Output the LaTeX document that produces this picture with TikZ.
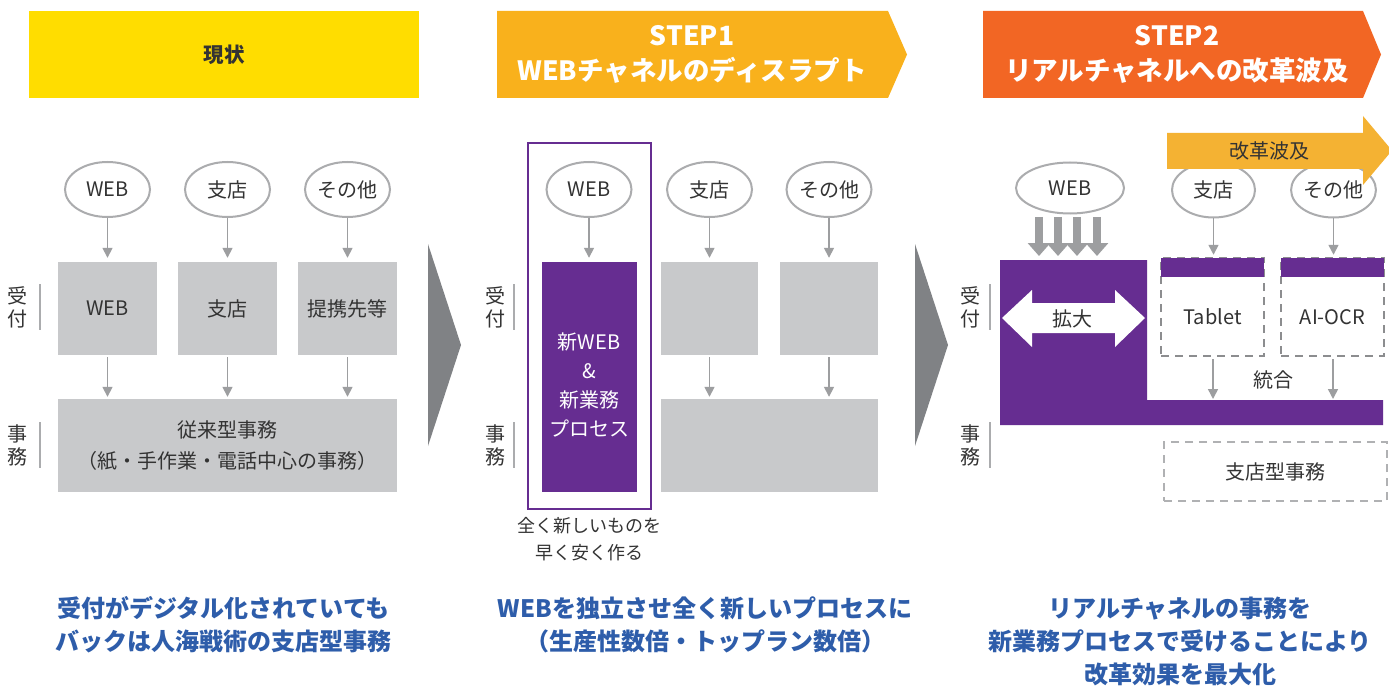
\documentclass[tikz,border=0pt]{standalone}
\usepackage{fontspec}
\setmainfont{Noto Sans CJK JP}
\usetikzlibrary{arrows.meta,shapes.geometric}
\definecolor{ylw}{HTML}{FFDD00}
\definecolor{orgA}{HTML}{F9B11C}
\definecolor{orgB}{HTML}{F26624}
\definecolor{prp}{HTML}{662D91}
\definecolor{gbox}{HTML}{C8C9CB}
\definecolor{gline}{HTML}{ABACAE}
\definecolor{garr}{HTML}{9D9EA0}
\definecolor{tri}{HTML}{808285}
\definecolor{txt}{HTML}{333333}
\definecolor{blu}{HTML}{2E5DAA}
\definecolor{wave}{HTML}{F4B233}
\definecolor{dashA}{HTML}{8C8D8F}
\definecolor{dashB}{HTML}{B0B1B3}
\tikzset{
  body/.style={font=\fontsize{20}{24}\selectfont, text=txt},
  oval/.style={ellipse, draw=gline, line width=2pt, minimum width=85pt, minimum height=55pt, inner sep=0pt, body},
  gbx/.style={rectangle, fill=gbox, inner sep=0pt, body},
  thin arrow/.style={draw=garr, line width=1.6pt, -{Triangle[width=10pt,length=10pt]}},
  side/.style={font=\fontsize{20}{23}\selectfont, text=txt, align=center, inner sep=0pt},
  sideline/.style={draw=gline, line width=1.2pt},
  hdr/.style={font=\bfseries\fontsize{26.5}{35}\selectfont, text=white, align=center, inner sep=0pt},
  bottomtxt/.style={font=\bfseries\fontsize{24}{33}\selectfont, text=blu, align=center, inner sep=0pt},
  fat arrow/.style={draw=garr, line width=8pt, -{Triangle[width=22pt,length=13pt]}},
  dashbox/.style={draw=dashA, line width=2.5pt, dash pattern=on 8pt off 6pt},
}
\begin{document}
\begin{tikzpicture}[x=1pt,y=-1pt]
\useasboundingbox (0,0) rectangle (1389,687);
\fill[white] (0,0) rectangle (1389,687);

% ---------- headers ----------
\fill[ylw] (29,11) rectangle (419,98);
\node[font=\bfseries\fontsize{20.5}{24}\selectfont, text=txt] (h0) at (224,55) {現状};
\fill[orgA] (497,11) -- (888,11) -- (907,54.5) -- (888,98) -- (497,98) -- cycle;
\node[hdr] (h1) at (692,54) {STEP1\\WEBチャネルのディスラプト};
\fill[orgB] (983,11) -- (1363,11) -- (1381,54.5) -- (1363,98) -- (983,98) -- cycle;
\node[hdr] (h2) at (1177,54) {STEP2\\リアルチャネルへの改革波及};

% ---------- panel 1 ----------
\node[oval] (e1a) at (107.5,189.5) {WEB};
\node[oval] (e1b) at (227.5,189.5) {支店};
\node[oval] (e1c) at (347.5,189.5) {その他};
\node[gbx, minimum width=99pt, minimum height=93pt] (b1a) at (107.5,308.5) {WEB};
\node[gbx, minimum width=99pt, minimum height=93pt] (b1b) at (227.5,308.5) {支店};
\node[gbx, minimum width=99pt, minimum height=93pt] (b1c) at (347.5,308.5) {提携先等};
\node[gbx, minimum width=339pt, minimum height=93pt, align=center, font=\fontsize{20}{31}\selectfont] (b1d) at (227.5,445.5) {従来型事務\\（紙・手作業・電話中心の事務）};
\foreach \s/\t in {e1a/b1a,e1b/b1b,e1c/b1c}
  \draw[thin arrow, shorten >=4pt] (\s.south) -- (\t.north);
\foreach \s in {a,b,c}
  \draw[thin arrow, shorten <=2pt, shorten >=2pt] (b1\s.south) -- (b1\s.south |- b1d.north);
\node[side] (s1a) at (18,307) {受\\付};
\node[side] (s1b) at (18,445) {事\\務};
\draw[sideline] (40,284) -- (40,330);
\draw[sideline] (40,422) -- (40,468);
\fill[tri] (428,244) -- (461,345) -- (428,446) -- cycle;

% ---------- panel 2 ----------
\draw[prp, line width=2.5pt] (528,143) rectangle (651,509);
\node[oval] (e2a) at (589,189.5) {WEB};
\node[oval] (e2b) at (709.5,189.5) {支店};
\node[oval] (e2c) at (829,189.5) {その他};
\node[rectangle, fill=prp, minimum width=95pt, minimum height=230pt, inner sep=0pt] (p2) at (589,377) {};
\node[font=\fontsize{20}{29}\selectfont, text=white, align=center, inner sep=0pt] (p2t) at (589,385) {新WEB\\\&\\新業務\\プロセス};
\node[gbx, minimum width=97pt, minimum height=93pt] (b2b) at (709.5,308.5) {};
\node[gbx, minimum width=98pt, minimum height=93pt] (b2c) at (829,308.5) {};
\node[gbx, minimum width=217pt, minimum height=93pt] (b2d) at (769.5,445.5) {};
\draw[thin arrow, shorten >=4pt] (e2a.south) -- (e2a.south |- p2.north);
\draw[thin arrow, shorten >=4pt] (e2b.south) -- (b2b.north);
\draw[thin arrow, shorten >=4pt] (e2c.south) -- (b2c.north);
\draw[thin arrow, shorten <=2pt, shorten >=2pt] (b2b.south) -- (b2b.south |- b2d.north);
\draw[thin arrow, shorten <=2pt, shorten >=2pt] (b2c.south) -- (b2c.south |- b2d.north);
\node[font=\fontsize{18}{27}\selectfont, text=txt, align=center, inner sep=0pt] (cap2) at (589,539.5) {全く新しいものを\\早く安く作る};
\node[side] (s2a) at (495,307) {受\\付};
\node[side] (s2b) at (495,445) {事\\務};
\draw[sideline] (514,284) -- (514,330);
\draw[sideline] (514,422) -- (514,468);
\fill[tri] (915,244) -- (948,345) -- (915,446) -- cycle;

% ---------- panel 3 ----------
\node[side] (s3a) at (970,307) {受\\付};
\node[side] (s3b) at (970,445) {事\\務};
\draw[sideline] (990,284) -- (990,330);
\draw[sideline] (990,422) -- (990,468);
\node[oval, minimum width=108pt, minimum height=51pt] (e3a) at (1070,188) {WEB};
\node[oval, minimum width=83pt] (e3b) at (1213.5,190) {支店};
\node[oval, minimum width=83pt] (e3c) at (1333.5,190) {その他};
% purple L shape
\fill[prp] (1000,260) -- (1147,260) -- (1147,400) -- (1383,400) -- (1383,425) -- (1000,425) -- cycle;
\coordinate (ptop) at (1070,259);
\foreach \x in {1039,1058,1077,1097}
  \draw[fat arrow] (\x,217) -- (\x,256);
% white double arrow
\fill[white] (1002,318) -- (1032,290) -- (1032,303) -- (1115,303) -- (1115,290) -- (1145,318) -- (1115,347) -- (1115,333) -- (1032,333) -- (1032,347) -- cycle;
\node[body] (kd) at (1072.5,319) {拡大};
% Tablet / AI-OCR
\node[rectangle, dashbox, minimum width=103pt, minimum height=98pt, inner sep=0pt] (tb) at (1212.5,307) {};
\fill[prp] (1161,258) rectangle (1264,277);
\node[body] (tbt) at (1212.5,317) {Tablet};
\node[rectangle, dashbox, minimum width=103pt, minimum height=98pt, inner sep=0pt] (ai) at (1332.5,307) {};
\fill[prp] (1281,258) rectangle (1384,277);
\node[body] (ait) at (1332.5,317) {AI-OCR};
\draw[thin arrow, shorten >=2pt] (e3b.south) -- (e3b.south |- tb.north);
\draw[thin arrow, shorten >=2pt] (e3c.south) -- (e3c.south |- ai.north);
\coordinate (bar1) at (1213,399);
\coordinate (bar2) at (1333,399);
\draw[thin arrow, shorten <=2pt] (tb.south -| bar1) -- (bar1);
\draw[thin arrow, shorten <=2pt] (ai.south -| bar2) -- (bar2);
\node[body] (tg) at (1273.5,380) {統合};
\node[rectangle, draw=dashB, line width=2.5pt, dash pattern=on 8pt off 6pt, minimum width=223pt, minimum height=59pt, body] (sx) at (1275.5,471.5) {支店型事務};
% 改革波及 arrow
\fill[wave] (1167,133) -- (1363,133) -- (1363,116) -- (1392,150.5) -- (1363,185) -- (1363,169) -- (1167,169) -- cycle;
\node[body] (kk) at (1269,151) {改革波及};

% ---------- bottom texts ----------
\node[bottomtxt] (t1) at (223.5,624.5) {受付がデジタル化されていても\\バックは人海戦術の支店型事務};
\node[bottomtxt] (t2) at (705,624.5) {WEBを独立させ全く新しいプロセスに\\（生産性数倍・トップラン数倍）};
\node[bottomtxt] (t3) at (1180,641) {リアルチャネルの事務を\\新業務プロセスで受けることにより\\改革効果を最大化};
\end{tikzpicture}
\end{document}
